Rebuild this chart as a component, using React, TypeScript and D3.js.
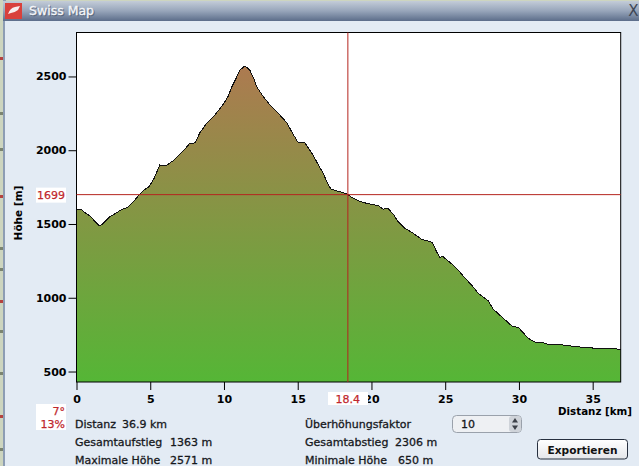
import * as d3 from "d3";
import { useEffect, useRef } from "react";

// profile
const distanceKm = [
  0, 0.29, 0.63, 0.97, 1.26, 1.58, 1.87, 2.21, 2.67, 3.0, 3.46, 3.8, 4.14, 4.59, 4.92, 5.26, 5.65, 6.06, 6.62, 7.19,
  7.64, 8.04, 8.36, 8.84, 9.38, 9.92, 10.26, 10.53, 10.8, 11.08, 11.42, 11.75, 12.03, 12.23, 12.63, 13.11, 13.72,
  14.27, 14.6, 15.0, 15.49, 16.03, 16.44, 16.71, 17.05, 17.25, 17.66, 18.27, 18.4, 18.65, 19.1, 19.67, 20.46, 20.8,
  21.09, 21.47, 21.81, 22.27, 22.83, 23.4, 24.12, 24.42, 24.64, 24.8, 25.44, 25.88, 26.27, 26.79, 27.24, 27.92,
  28.26, 28.94, 29.57, 29.95, 30.63, 31.09, 31.65, 32.1, 33.0, 33.91, 35.04, 36.17, 36.9,
];
const elevationM = [
  1595, 1600, 1573, 1550, 1516, 1486, 1509, 1545, 1573, 1595, 1613, 1644, 1685, 1731, 1753, 1810, 1900, 1893, 1934,
  1990, 2042, 2051, 2117, 2185, 2239, 2307, 2361, 2429, 2483, 2544, 2571, 2544, 2483, 2429, 2368, 2307, 2246, 2185,
  2124, 2056, 2049, 1968, 1893, 1846, 1771, 1737, 1724, 1707, 1699, 1681, 1658, 1640, 1624, 1600, 1608, 1568, 1516,
  1471, 1437, 1396, 1376, 1312, 1272, 1283, 1229, 1188, 1141, 1086, 1030, 980, 922, 861, 804, 800, 725, 700, 695,
  680, 680, 668, 659, 657, 650,
];
const xTicks = [0, 5, 10, 15, 20, 25, 30, 35];
const yTicks = [500, 1000, 1500, 2000, 2500];
const cursorKm = 18.4;
const cursorM = 1699;

const statsLeft = [
  ["Distanz", "36.9 km", 122],
  ["Gesamtaufstieg", "1363 m", 170],
  ["Maximale Höhe", "2571 m", 170],
] as const;
const statsRight = [
  ["Überhöhungsfaktor", "", 0],
  ["Gesamtabstieg", "2306 m", 395],
  ["Minimale Höhe", "650 m", 398],
] as const;

// bits of the map that show beside the window
const mapMarks = [57, 112, 148, 195, 247, 268, 300, 330, 372, 415, 448];

const font = "'DejaVu Sans', sans-serif";
const red = "#b5251f";

export default function App() {
  const ref = useRef<SVGSVGElement | null>(null);

  useEffect(() => {
    const el = ref.current;
    if (!el) return;
    const svg = d3.select<SVGSVGElement, unknown>(el);
    svg.selectAll("*").remove();

    const width = 639;
    const height = 466;
    const plot = { left: 76.5, right: 620.7, top: 32.5, bottom: 382 };

    const x = d3.scaleLinear().domain([0, 36.9]).range([plot.left, plot.right]);
    const y = d3.scaleLinear().domain([429, 2798]).range([plot.bottom, plot.top]);

    const defs = svg.append("defs");
    const title = defs
      .append("linearGradient")
      .attr("id", "titlebar")
      .attr("x1", 0)
      .attr("x2", 0)
      .attr("y1", 0)
      .attr("y2", 1);
    title.append("stop").attr("offset", 0).attr("stop-color", "#c3ccd8");
    title.append("stop").attr("offset", 0.5).attr("stop-color", "#97a5ba");
    title.append("stop").attr("offset", 1).attr("stop-color", "#5c6d8a");

    const fill = defs
      .append("linearGradient")
      .attr("id", "hill")
      .attr("gradientUnits", "userSpaceOnUse")
      .attr("x1", 0)
      .attr("x2", 0)
      .attr("y1", y(2571))
      .attr("y2", plot.bottom);
    fill.append("stop").attr("offset", 0).attr("stop-color", "#ad7a50");
    fill.append("stop").attr("offset", 1).attr("stop-color", "#55b636");

    const btn = defs
      .append("linearGradient")
      .attr("id", "btn")
      .attr("x1", 0)
      .attr("x2", 0)
      .attr("y1", 0)
      .attr("y2", 1);
    btn.append("stop").attr("offset", 0).attr("stop-color", "#ffffff");
    btn.append("stop").attr("offset", 1).attr("stop-color", "#e4e6ea");

    // window and the map behind it
    svg.append("rect").attr("width", width).attr("height", height).attr("fill", "#cdd5bf");
    svg
      .append("g")
      .selectAll("rect")
      .data(mapMarks)
      .enter()
      .append("rect")
      .attr("x", 0)
      .attr("y", (d) => d)
      .attr("width", 3)
      .attr("height", 3)
      .attr("fill", (_, i) => (i % 3 === 0 ? "#b5433f" : "#7b8470"));
    svg.append("rect").attr("x", 3).attr("width", 3).attr("height", height).attr("fill", "#8d9db4");
    svg.append("rect").attr("x", 5).attr("y", 20).attr("width", width - 5).attr("height", height - 20).attr("fill", "#e3ebf4");
    svg.append("rect").attr("x", 3).attr("y", 1).attr("width", width - 3).attr("height", 20).attr("fill", "url(#titlebar)");

    svg.append("rect").attr("x", 5).attr("y", 3).attr("width", 17).attr("height", 16).attr("fill", "#d8413c");
    svg
      .append("path")
      .attr("d", "M8 14 Q10 8 15 7 L20 6 L18 10 Q14 13 11 13 Z")
      .attr("fill", "#f7eeee");

    svg
      .append("text")
      .attr("x", 29)
      .attr("y", 15)
      .attr("font-family", font)
      .attr("font-size", 12.5)
      .attr("fill", "#3f4a5e")
      .attr("stroke", "#3f4a5e")
      .attr("stroke-width", 0.5)
      .attr("opacity", 0.55)
      .attr("transform", "translate(1,1)")
      .text("Swiss Map");
    svg
      .append("text")
      .attr("x", 29)
      .attr("y", 15)
      .attr("font-family", font)
      .attr("font-size", 12.5)
      .attr("fill", "#f4f6f9")
      .attr("stroke", "#f4f6f9")
      .attr("stroke-width", 0.3)
      .text("Swiss Map");
    svg
      .append("text")
      .attr("x", 633.5)
      .attr("y", 16)
      .attr("text-anchor", "middle")
      .attr("font-family", font)
      .attr("font-size", 15)
      .attr("fill", "#3e4756")
      .text("X");

    // plot
    svg
      .append("rect")
      .attr("x", plot.left)
      .attr("y", plot.top)
      .attr("width", plot.right - plot.left)
      .attr("height", plot.bottom - plot.top)
      .attr("fill", "#ffffff");

    const points = distanceKm.map((d, i) => [d, elevationM[i]] as [number, number]);
    const area = d3
      .area<[number, number]>()
      .x((d) => x(d[0]))
      .y0(plot.bottom)
      .y1((d) => y(d[1]));
    const line = d3
      .line<[number, number]>()
      .x((d) => x(d[0]))
      .y((d) => y(d[1]));

    svg.append("path").attr("d", area(points)).attr("fill", "url(#hill)");
    svg
      .append("path")
      .attr("d", line(points))
      .attr("fill", "none")
      .attr("stroke", "#111")
      .attr("stroke-width", 1)
      .attr("shape-rendering", "crispEdges");

    svg
      .append("rect")
      .attr("x", plot.left)
      .attr("y", plot.top)
      .attr("width", plot.right - plot.left)
      .attr("height", plot.bottom - plot.top)
      .attr("fill", "none")
      .attr("stroke", "#000")
      .attr("stroke-width", 1);

    const styleAxis = (g: d3.Selection<SVGGElement, unknown, null, undefined>) => {
      g.select(".domain").remove();
      g.selectAll("line").attr("stroke", "#000");
      g.selectAll("text")
        .attr("fill", "#000")
        .attr("font-family", font)
        .attr("font-size", 11)
        .attr("font-weight", 700);
    };

    svg
      .append("g")
      .attr("transform", `translate(${plot.left},0)`)
      .call(d3.axisLeft(y).tickValues(yTicks).tickFormat(d3.format("d")).tickSize(8).tickPadding(2))
      .call(styleAxis);
    svg
      .append("g")
      .attr("transform", `translate(0,${plot.bottom})`)
      .call(d3.axisBottom(x).tickValues(xTicks).tickFormat(d3.format("d")).tickSize(8).tickPadding(5))
      .call(styleAxis);

    svg
      .append("text")
      .attr("transform", "translate(22,213) rotate(-90)")
      .attr("text-anchor", "middle")
      .attr("font-family", font)
      .attr("font-size", 10.5)
      .attr("font-weight", 700)
      .text("Höhe [m]");
    svg
      .append("text")
      .attr("x", 632)
      .attr("y", 415)
      .attr("text-anchor", "end")
      .attr("font-family", font)
      .attr("font-size", 10.3)
      .attr("font-weight", 700)
      .text("Distanz [km]");

    // cursor
    svg
      .append("line")
      .attr("x1", plot.left)
      .attr("x2", plot.right)
      .attr("y1", y(cursorM))
      .attr("y2", y(cursorM))
      .attr("stroke", red);
    svg
      .append("line")
      .attr("x1", x(cursorKm))
      .attr("x2", x(cursorKm))
      .attr("y1", plot.top)
      .attr("y2", plot.bottom)
      .attr("stroke", red);

    const redLabel = (tx: number, ty: number, anchor: string, s: string) =>
      svg
        .append("text")
        .attr("x", tx)
        .attr("y", ty)
        .attr("text-anchor", anchor)
        .attr("font-family", font)
        .attr("font-size", 11)
        .attr("fill", "#c0272d")
        .attr("stroke", "#c0272d")
        .attr("stroke-width", 0.25)
        .text(s);

    svg.append("rect").attr("x", 36).attr("y", y(cursorM) - 7).attr("width", 30).attr("height", 15).attr("fill", "#fff");
    redLabel(65, y(cursorM) + 4.5, "end", String(cursorM));
    svg.append("rect").attr("x", 328).attr("y", 392).attr("width", 40).attr("height", 13).attr("fill", "#fff");
    redLabel(x(cursorKm), 403, "middle", String(cursorKm));
    svg.append("rect").attr("x", 36).attr("y", 404).attr("width", 30).attr("height", 26).attr("fill", "#fff");
    redLabel(65, 415, "end", "7°");
    redLabel(65, 428, "end", "13%");

    // stats under the plot
    const statText = (tx: number, ty: number, s: string) =>
      svg
        .append("text")
        .attr("x", tx)
        .attr("y", ty)
        .attr("font-family", font)
        .attr("font-size", 11)
        .attr("fill", "#16181c")
        .attr("stroke", "#16181c")
        .attr("stroke-width", 0.3)
        .text(s);

    statsLeft.forEach(([label, value, vx], i) => {
      statText(75, 428 + i * 18, label);
      statText(vx, 428 + i * 18, value);
    });
    statsRight.forEach(([label, value, vx], i) => {
      statText(305, 428 + i * 18, label);
      if (value) statText(vx, 428 + i * 18, value);
    });

    // spinner
    svg
      .append("rect")
      .attr("x", 452.5)
      .attr("y", 415.5)
      .attr("width", 69)
      .attr("height", 17)
      .attr("rx", 4)
      .attr("fill", "#eef0f3")
      .attr("stroke", "#9aa1ab");
    svg
      .append("rect")
      .attr("x", 509)
      .attr("y", 416)
      .attr("width", 12)
      .attr("height", 16)
      .attr("rx", 3)
      .attr("fill", "#cfd3d9");
    svg.append("path").attr("d", "M512 422.5 L515 418 L518 422.5 Z").attr("fill", "#3c4048");
    svg.append("path").attr("d", "M512 425.5 L515 430 L518 425.5 Z").attr("fill", "#3c4048");
    statText(461, 428, "10");

    // button
    svg
      .append("rect")
      .attr("x", 537.5)
      .attr("y", 439.5)
      .attr("width", 90)
      .attr("height", 19.5)
      .attr("rx", 3)
      .attr("fill", "url(#btn)")
      .attr("stroke", "#27303f");
    svg
      .append("text")
      .attr("x", 582.5)
      .attr("y", 453.5)
      .attr("text-anchor", "middle")
      .attr("font-family", font)
      .attr("font-size", 10.6)
      .attr("font-weight", 700)
      .attr("fill", "#111")
      .text("Exportieren");
  }, []);

  return (
    <svg
      ref={ref}
      width={639}
      height={466}
      viewBox="0 0 639 466"
      style={{ position: "absolute", left: 0, top: 0, display: "block" }}
    />
  );
}
